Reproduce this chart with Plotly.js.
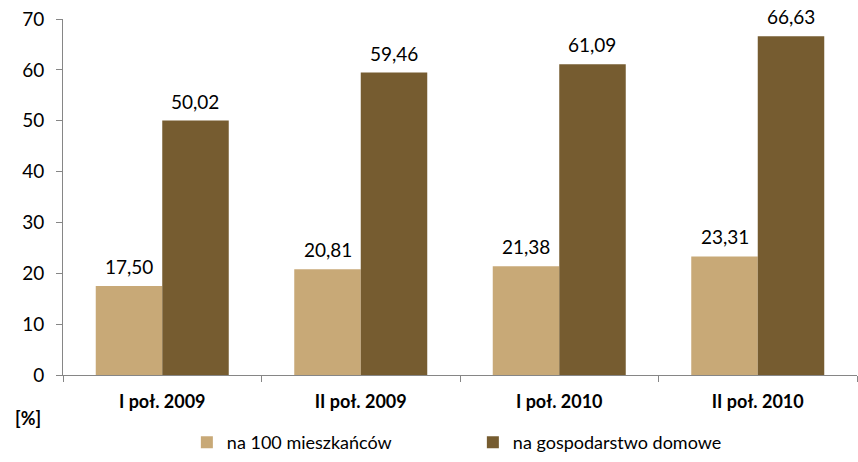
<!DOCTYPE html>
<html><head><meta charset="utf-8">
<script src="https://cdn.plot.ly/plotly-3.0.1.min.js"></script>
<style>html,body{margin:0;padding:0;background:#fff}#c{width:858px;height:462px}</style>
</head><body><div id="c"></div>
<script>
const categories = ["I poł. 2009", "II poł. 2009", "I poł. 2010", "II poł. 2010"];
const seriesNames = ["na 100 mieszkańców", "na gospodarstwo domowe"];
const perResidents = [17.50, 20.81, 21.38, 23.31];
const perHousehold = [50.02, 59.46, 61.09, 66.63];
const colors = ["#C8A977", "#765C30"];
const yTicks = [0, 10, 20, 30, 40, 50, 60, 70];

const font = "Lato, 'Open Sans', sans-serif";
const fmt = v => v.toFixed(2).replace('.', ',');

const traces = [perResidents, perHousehold].map((vals, i) => ({
  type: 'bar', x: categories, y: vals, name: seriesNames[i],
  marker: {color: colors[i]}, hoverinfo: 'skip'
}));

const annotations = [];
[perResidents, perHousehold].forEach((vals, i) => {
  vals.forEach((v, j) => annotations.push({
    x: categories[j], y: v, xref: 'x', yref: 'y', text: fmt(v), showarrow: false,
    xshift: i === 0 ? -33 : 33, yanchor: 'bottom', yshift: 6,
    font: {family: font, size: 19, color: '#000'}
  }));
});
annotations.push({
  xref: 'paper', yref: 'paper', x: -0.044, y: -0.12, text: '<b>[%]</b>', showarrow: false,
  xanchor: 'center', yanchor: 'middle', font: {family: font, size: 18, color: '#000'}
});

const layout = {
  width: 858, height: 462,
  margin: {l: 63, r: 1, t: 19, b: 84},
  paper_bgcolor: '#fff', plot_bgcolor: '#fff',
  barmode: 'group', bargap: 0.33, bargroupgap: 0,
  showlegend: true,
  legend: {orientation: 'h', x: 0.156, xanchor: 'left', y: -0.19, yanchor: 'middle',
           entrywidth: 241, entrywidthmode: 'pixels', traceorder: 'normal', itemwidth: 30,
           font: {family: font, size: 18, color: '#000'}},
  xaxis: {type: 'category', showline: true, linecolor: '#868686', linewidth: 1,
          ticks: 'outside', tickson: 'boundaries', ticklen: 6, tickcolor: '#868686',
          showgrid: false, zeroline: false, ticklabelstandoff: 10,
          tickfont: {family: font, size: 18, color: '#000', weight: 'bold'}},
  yaxis: {range: [0, 70], tickvals: yTicks, ticktext: yTicks.map(String),
          showline: true, linecolor: '#868686', linewidth: 1,
          ticks: 'outside', ticklen: 6, tickcolor: '#868686', showgrid: false, zeroline: false,
          ticklabelstandoff: 8,
          tickfont: {family: font, size: 19, color: '#000'}},
  annotations: annotations
};
Plotly.newPlot('c', traces, layout, {staticPlot: true});
</script></body></html>
